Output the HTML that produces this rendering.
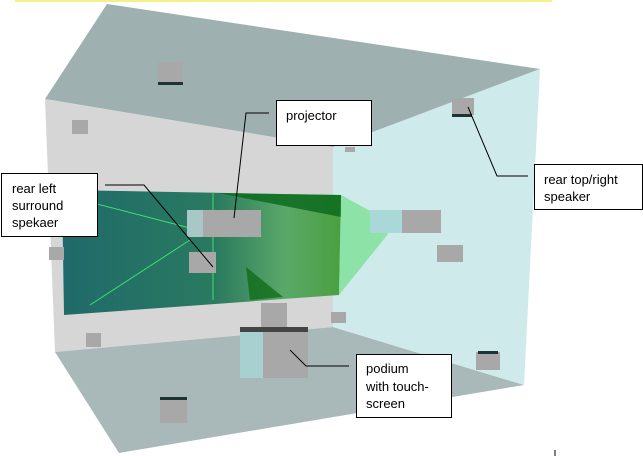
<!DOCTYPE html>
<html><head><meta charset="utf-8"><style>
html,body{margin:0;padding:0;background:#fff;overflow:hidden}
svg{display:block}
text{font-family:"Liberation Sans",sans-serif;font-size:13px;fill:#000}
</style></head><body>
<svg width="643" height="456" viewBox="0 0 643 456" xmlns="http://www.w3.org/2000/svg">
<defs>
<linearGradient id="scr" x1="0" y1="0" x2="1" y2="0">
<stop offset="0" stop-color="#1f6a6a"/><stop offset="0.55" stop-color="#2a7a60"/><stop offset="0.8" stop-color="#5aa868"/><stop offset="1" stop-color="#4aa040"/>
</linearGradient>
</defs>
<line x1="15" y1="1" x2="552" y2="1" stroke="#f4f08a" stroke-width="2"/>
<polygon points="107,4 540,69 333,147 45,99" fill="#9fb0b0"/>
<polygon points="45,99 333,147 333,327 55,352" fill="#d6d6d6"/>
<polygon points="55,352 333,327 524,385 119,453" fill="#a9b9b9"/>
<polygon points="333,147 540,69 524,385 333,327" fill="#cfeaea"/>
<polygon points="62,190 341,195 339,295 64,315" fill="url(#scr)"/>
<polygon points="218,193 341,195 341,217" fill="#0d6b1f" opacity="0.85"/>
<polygon points="246,267 283,297 250,300" fill="#0f6a14" opacity="0.75"/>
<line x1="213" y1="192" x2="213" y2="300" stroke="#3fe070" stroke-width="1"/>
<line x1="62" y1="195" x2="190" y2="228" stroke="#3fe070" stroke-width="1"/>
<line x1="90" y1="305" x2="190" y2="240" stroke="#3fe070" stroke-width="1"/>
<polygon points="341,195 372,212 388,234 339,295" fill="#5fdc7a" opacity="0.6"/>
<rect x="370" y="210" width="32" height="23" fill="#a8d8d8"/>
<rect x="402" y="210" width="39" height="23" fill="#a8a8a8"/>
<rect x="187" y="210" width="16" height="27" fill="#a8c8c8"/>
<rect x="203" y="210" width="58" height="27" fill="#a8a8a8"/>
<rect x="189" y="252" width="27" height="21" fill="#a8a8a8"/>
<rect x="261" y="303" width="26" height="24" fill="#a8a8a8"/>
<rect x="240" y="331" width="23" height="47" fill="#a8d0d0"/>
<rect x="263" y="331" width="45" height="47" fill="#a8a8a8"/>
<rect x="240" y="327" width="68" height="5" fill="#444"/>
<g fill="#a8a8a8">
<rect x="158" y="62" width="25" height="21"/><rect x="72" y="120" width="16" height="14"/>
<rect x="452" y="98" width="22" height="17"/><rect x="437" y="245" width="26" height="17"/>
<rect x="49" y="247" width="15" height="13"/><rect x="86" y="333" width="15" height="14"/>
<rect x="160" y="399" width="27" height="24"/><rect x="476" y="352" width="24" height="18"/>
<rect x="331" y="312" width="15" height="11"/><rect x="345" y="147" width="10" height="5"/>
</g>
<g fill="#1e3434"><rect x="158" y="82" width="25" height="3"/><rect x="452" y="114" width="20" height="3"/><rect x="160" y="397" width="27" height="3"/><rect x="478" y="351" width="20" height="3"/></g>
<g stroke="#000" stroke-width="1" fill="none">
<polyline points="269,113 246,113 234,218"/>
<polyline points="105,185 144,185 213,267"/>
<polyline points="528,176 497,176 468,107"/>
<polyline points="349,366 306,366 290,350"/>
</g>
<g fill="#fff" stroke="#000" stroke-width="1">
<rect x="276.5" y="100.5" width="95" height="45"/>
<rect x="1.5" y="173.5" width="96" height="63"/>
<rect x="534.5" y="164.5" width="108" height="45"/>
<rect x="356.5" y="354.5" width="95" height="63"/>
</g>
<text x="286" y="120">projector</text>
<text x="12" y="193">rear left</text><text x="12" y="210">surround</text><text x="12" y="227">spekaer</text>
<text x="544" y="184">rear top/right</text><text x="544" y="201">speaker</text>
<text x="366" y="373">podium</text><text x="366" y="391">with touch-</text><text x="366" y="408">screen</text>
<line x1="555" y1="450" x2="555" y2="456" stroke="#000"/>
</svg>
</body></html>
